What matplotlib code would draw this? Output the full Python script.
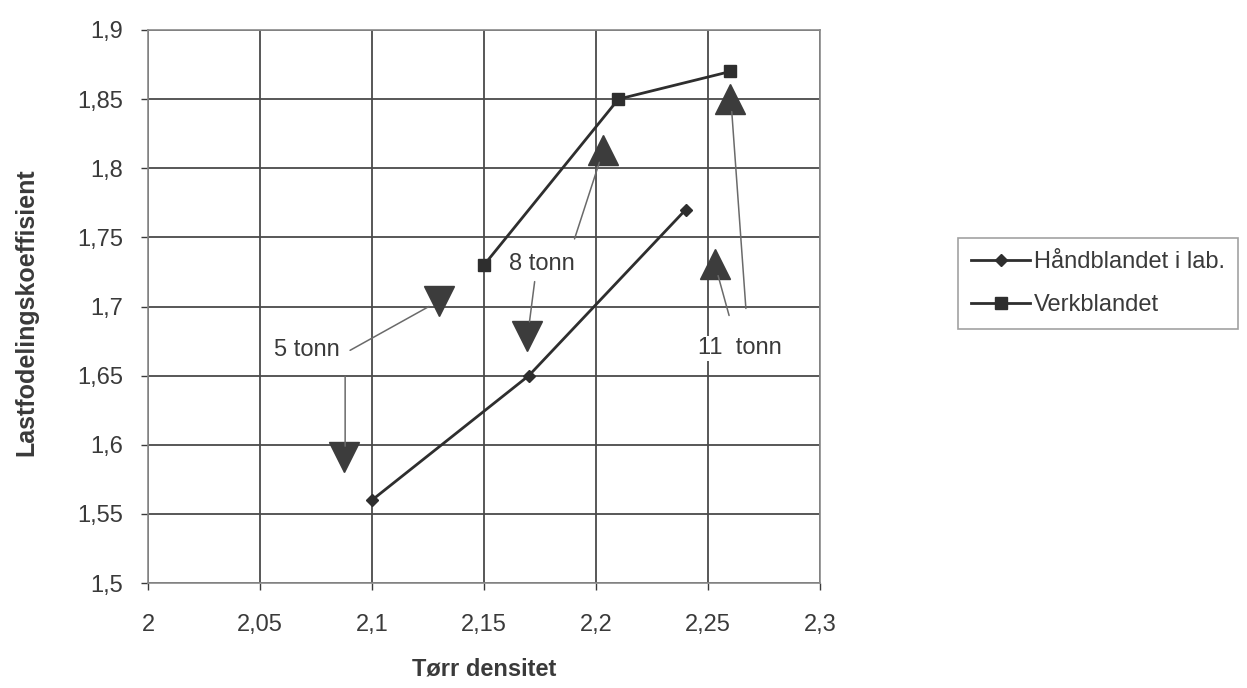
import matplotlib
matplotlib.use('Agg')
import matplotlib.pyplot as plt
from matplotlib.ticker import MultipleLocator, FuncFormatter

plt.rcParams['font.family'] = ['Liberation Sans', 'DejaVu Sans']

# Måledata
dens_hand = [2.10, 2.17, 2.24]
koef_hand = [1.56, 1.65, 1.77]
dens_verk = [2.15, 2.21, 2.26]
koef_verk = [1.73, 1.85, 1.87]

# Trekanter som markerer lastnivå
tri_ned_x = [2.0875, 2.130, 2.169]
tri_ned_y = [1.591, 1.704, 1.679]
tri_opp_x = [2.203, 2.253, 2.260]
tri_opp_y = [1.813, 1.731, 1.850]

# Tekst for lastnivå (x, y, tekst)
last_tekst = [(2.0711, 1.6683, '5 tonn'),
              (2.1757, 1.7309, '8 tonn'),
              (2.2643, 1.6698, '11  tonn')]

# Hjelpelinjer fra tekst til trekant: (x0, y0, x1, y1)
hjelpelinjer = [(2.0902, 1.6683, 2.1254, 1.7000),
                (2.0880, 1.6496, 2.0880, 1.5990),
                (2.1726, 1.7180, 2.1703, 1.6890),
                (2.1904, 1.7489, 2.2015, 1.8043),
                (2.2594, 1.6935, 2.2545, 1.7223),
                (2.2669, 1.6986, 2.2606, 1.8410)]

fig = plt.figure(figsize=(12.47, 6.88), dpi=100)
ax = fig.add_axes([0.1187, 0.1526, 0.5389, 0.8038])

ax.set_xlim(2.0, 2.3)
ax.set_ylim(1.5, 1.9)
ax.xaxis.set_major_locator(MultipleLocator(0.05))
ax.yaxis.set_major_locator(MultipleLocator(0.05))
komma = FuncFormatter(lambda v, p: ('%g' % round(v, 3)).replace('.', ','))
ax.xaxis.set_major_formatter(komma)
ax.yaxis.set_major_formatter(komma)

ax.grid(True, color='#4a4a4a', linewidth=1.3)
ax.set_axisbelow(True)
for s in ax.spines.values():
    s.set_color('#8a8a8a')
    s.set_linewidth(1.2)
ax.tick_params(axis='both', labelsize=17, colors='#3a3a3a', length=5,
               width=1)
ax.tick_params(axis='y', pad=13)
ax.tick_params(axis='x', pad=17)

for x0, y0, x1, y1 in hjelpelinjer:
    ax.annotate('', xy=(x1, y1), xytext=(x0, y0),
                arrowprops=dict(arrowstyle='-', color='#6a6a6a', lw=1.1,
                                shrinkA=0, shrinkB=0))

ax.plot(tri_ned_x, tri_ned_y, linestyle='none', marker='v', ms=21,
        color='#3c3c3c')
ax.plot(tri_opp_x, tri_opp_y, linestyle='none', marker='^', ms=21,
        color='#3c3c3c')

l1, = ax.plot(dens_hand, koef_hand, color='#2e2e2e', lw=2, marker='D', ms=6,
              label='Håndblandet i lab.')
l2, = ax.plot(dens_verk, koef_verk, color='#2e2e2e', lw=2, marker='s', ms=8,
              label='Verkblandet')

for x, y, t in last_tekst:
    ax.text(x, y, t, fontsize=17, color='#3a3a3a', ha='center', va='center',
            bbox=dict(facecolor='white', edgecolor='none', pad=1))

ax.set_xlabel('Tørr densitet', fontsize=17, fontweight='bold',
              color='#3a3a3a')
ax.set_ylabel('Lastfodelingskoeffisient', fontsize=18, fontweight='bold',
              color='#3a3a3a')
ax.xaxis.set_label_coords(0.5, -0.135)
ax.yaxis.set_label_coords(-0.163, 0.49)

leg = fig.legend(handles=[l1, l2], loc='upper left',
                 bbox_to_anchor=(958 / 1247, (688 - 238) / 688),
                 fontsize=17, frameon=True, fancybox=False,
                 handlelength=2.5, handletextpad=0.15, borderpad=0.55,
                 borderaxespad=0, labelspacing=0.9)
leg.get_frame().set_edgecolor('#8a8a8a')
leg.get_frame().set_linewidth(1.2)
for t in leg.get_texts():
    t.set_color('#3a3a3a')

fig.savefig('out.png', dpi=100)
